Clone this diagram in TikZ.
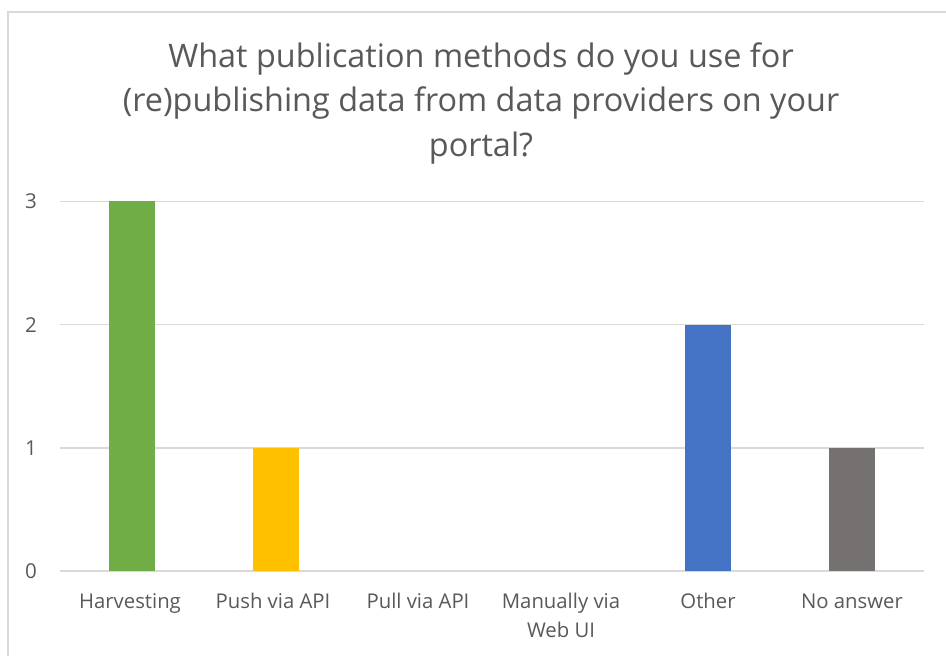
\documentclass[tikz,border=0pt]{standalone}
\usepackage{fontspec}
\setmainfont{Open Sans}
\definecolor{txtgray}{HTML}{595959}
\definecolor{gridgray}{HTML}{D9D9D9}
\definecolor{bargreen}{HTML}{70AD47}
\definecolor{baryellow}{HTML}{FFC000}
\definecolor{barblue}{HTML}{4472C4}
\definecolor{bargray}{HTML}{767171}
\begin{document}
\begin{tikzpicture}[x=1pt,y=-1pt,
  gridline/.style={draw=gridgray,line width=1.5pt},
  ticklabel/.style={text=txtgray,font=\fontsize{20.5}{25}\selectfont,inner sep=0pt},
  catlabel/.style={text=txtgray,font=\fontsize{20.3}{25}\selectfont,inner sep=0pt,anchor=base},
  titlestyle/.style={text=txtgray,font=\fontsize{32.4}{40}\selectfont,inner sep=0pt,anchor=base}]
\useasboundingbox (0,0) rectangle (946,656);
\fill[white] (0,0) rectangle (946,656);
% chart border (left and top visible)
\draw[gridgray,line width=1.5pt] (8,660) -- (8,12) -- (950,12);
% title
\node[titlestyle] (title1) at (481,67) {What publication methods do you use for};
\node[titlestyle] (title2) at (481,111.5) {(re)publishing data from data providers on your};
\node[titlestyle] (title3) at (481,156) {portal?};
% gridlines
\foreach \v/\yy in {0/571.2,1/447.9,2/324.6,3/201.3}{
  \coordinate (gl\v) at (60,\yy);
  \coordinate (gr\v) at (924,\yy);
  \draw[gridline] (gl\v) -- (gr\v);
  \node[ticklabel] (t\v) at (31,\yy) {\v};
}
% bars
\fill[bargreen] (109,571.2) rectangle (155,201.3);
\fill[baryellow] (253,571.2) rectangle (299,447.9);
\fill[barblue] (685,571.2) rectangle (731,324.6);
\fill[bargray] (829,571.2) rectangle (875,447.9);
% category labels
\node[catlabel] (c1) at (130,608) {Harvesting};
\node[catlabel] (c2) at (273,608) {Push via API};
\node[catlabel] (c3) at (418,608) {Pull via API};
\node[catlabel] (c4a) at (561,608) {Manually via};
\node[catlabel] (c4b) at (561,637) {Web UI};
\node[catlabel] (c5) at (708,608) {Other};
\node[catlabel] (c6) at (852,608) {No answer};
\end{tikzpicture}
\end{document}
